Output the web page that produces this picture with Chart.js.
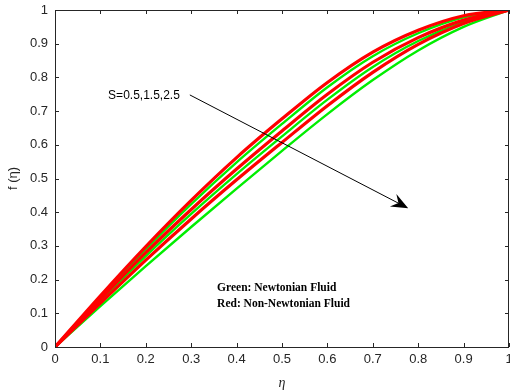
<!DOCTYPE html>
<html><head><meta charset="utf-8">
<script src="https://cdn.jsdelivr.net/npm/chart.js@4.4.0/dist/chart.umd.min.js"></script>
<style>html,body{margin:0;padding:0;background:#fff;} #wrap{width:510px;height:392px;}</style>
</head><body><div id="wrap"><canvas id="c" width="510" height="392"></canvas></div>
<script>
// eta grid
const eta = [0, 0.1, 0.2, 0.3, 0.4, 0.5, 0.6, 0.7, 0.8, 0.9, 1.0];
// Non-Newtonian (red) for S = 0.5, 1.5, 2.5
const redS05 = [0, 0.152, 0.298, 0.435, 0.562, 0.677, 0.785, 0.875, 0.940, 0.983, 1.0];
const redS15 = [0, 0.142, 0.280, 0.408, 0.528, 0.641, 0.750, 0.845, 0.918, 0.970, 1.0];
const redS25 = [0, 0.130, 0.258, 0.380, 0.496, 0.607, 0.716, 0.815, 0.898, 0.960, 1.0];
// Newtonian (green) for S = 0.5, 1.5, 2.5
const greenS05 = [0, 0.148, 0.290, 0.424, 0.548, 0.662, 0.771, 0.863, 0.931, 0.978, 1.0];
const greenS15 = [0, 0.137, 0.270, 0.395, 0.513, 0.625, 0.734, 0.831, 0.908, 0.964, 1.0];
const greenS25 = [0, 0.121, 0.240, 0.356, 0.470, 0.582, 0.691, 0.792, 0.880, 0.950, 1.0];

const xTicks = [0, 0.1, 0.2, 0.3, 0.4, 0.5, 0.6, 0.7, 0.8, 0.9, 1];
const yTicks = [0, 0.1, 0.2, 0.3, 0.4, 0.5, 0.6, 0.7, 0.8, 0.9, 1];

const annotationLabel = "S=0.5,1.5,2.5";
const legendLines = ["Green: Newtonian Fluid", "Red: Non-Newtonian Fluid"];

function pts(ys) { return eta.map((e, i) => ({x: e, y: ys[i]})); }

const RED = '#ff0000', GREEN = '#00ee00';
const datasets = [
  {data: pts(redS05), borderColor: RED, borderWidth: 3.2, order: 1},
  {data: pts(redS15), borderColor: RED, borderWidth: 3.2, order: 1},
  {data: pts(redS25), borderColor: RED, borderWidth: 3.2, order: 1},
  {data: pts(greenS05), borderColor: GREEN, borderWidth: 2.4, order: 2},
  {data: pts(greenS15), borderColor: GREEN, borderWidth: 2.4, order: 2},
  {data: pts(greenS25), borderColor: GREEN, borderWidth: 2.4, order: 2},
];

const AXC = '#262626';
const frameAndNotes = {
  id: 'frameAndNotes',
  afterDatasetsDraw(chart) {
    const {ctx, chartArea: a, scales: {x, y}} = chart;
    ctx.save();
    ctx.strokeStyle = AXC; ctx.lineWidth = 1;
    ctx.strokeRect(Math.round(a.left) + 0.5, Math.round(a.top) + 0.5, Math.round(a.right - a.left) - 1, Math.round(a.bottom - a.top));
    const L = 4;
    ctx.beginPath();
    xTicks.forEach(v => {
      const px = Math.round(x.getPixelForValue(v)) + 0.5;
      ctx.moveTo(px, a.bottom); ctx.lineTo(px, a.bottom - L);
      ctx.moveTo(px, a.top); ctx.lineTo(px, a.top + L);
    });
    yTicks.forEach(v => {
      const py = Math.round(y.getPixelForValue(v)) + 0.5;
      ctx.moveTo(a.left, py); ctx.lineTo(a.left + L, py);
      ctx.moveTo(a.right, py); ctx.lineTo(a.right - L, py);
    });
    ctx.stroke();

    ctx.fillStyle = '#000';
    ctx.font = '12px "Liberation Sans", Arial, sans-serif';
    ctx.textAlign = 'left'; ctx.textBaseline = 'middle';
    const tx = x.getPixelForValue(0.117), ty = y.getPixelForValue(0.745);
    ctx.fillText(annotationLabel, tx, ty);
    const x0 = x.getPixelForValue(0.297), y0 = y.getPixelForValue(0.748);
    const x1 = x.getPixelForValue(0.778), y1 = y.getPixelForValue(0.412);
    ctx.strokeStyle = '#000'; ctx.lineWidth = 1;
    ctx.beginPath(); ctx.moveTo(x0, y0); ctx.lineTo(x1 - 6, y1 - 3); ctx.stroke();
    const ang = Math.atan2(y1 - y0, x1 - x0);
    const len = 17, w = 7, notch = 11;
    ctx.beginPath();
    ctx.moveTo(x1, y1);
    ctx.lineTo(x1 - len * Math.cos(ang) - w * Math.sin(ang), y1 - len * Math.sin(ang) + w * Math.cos(ang));
    ctx.lineTo(x1 - notch * Math.cos(ang), y1 - notch * Math.sin(ang));
    ctx.lineTo(x1 - len * Math.cos(ang) + w * Math.sin(ang), y1 - len * Math.sin(ang) - w * Math.cos(ang));
    ctx.closePath(); ctx.fillStyle = '#000'; ctx.fill();

    ctx.font = 'bold 11.5px "Liberation Serif", "Times New Roman", serif';
    const lx = x.getPixelForValue(0.357);
    ctx.fillText(legendLines[0], lx, y.getPixelForValue(0.175));
    ctx.fillText(legendLines[1], lx, y.getPixelForValue(0.128));
    ctx.restore();
  }
};

const tickFont = {family: '"Liberation Sans", Arial, sans-serif', size: 13};
new Chart(document.getElementById('c'), {
  type: 'line',
  data: {datasets},
  options: {
    responsive: false, animation: false, devicePixelRatio: 1,
    layout: {padding: {top: 10, right: 1, left: 0, bottom: 0}},
    elements: {point: {radius: 0}, line: {cubicInterpolationMode: 'monotone', fill: false}},
    plugins: {legend: {display: false}, tooltip: {enabled: false}},
    scales: {
      x: {
        type: 'linear', min: 0, max: 1,
        afterBuildTicks: s => { s.ticks = xTicks.map(v => ({value: v})); },
        afterFit: s => { s.height = 45; s.paddingLeft = 0; s.paddingRight = 0; },
        grid: {display: false, drawTicks: false},
        border: {display: false},
        ticks: {color: AXC, font: tickFont, padding: 5, maxRotation: 0, callback: v => String(+v.toFixed(1))},
        title: {display: true, text: 'η', color: AXC, font: {family: '"Liberation Serif", serif', size: 14, style: 'italic'}, padding: {top: 6, bottom: 0}}
      },
      y: {
        type: 'linear', min: 0, max: 1,
        afterBuildTicks: s => { s.ticks = yTicks.map(v => ({value: v})); },
        afterFit: s => { s.width = 55; s.paddingTop = 0; s.paddingBottom = 0; },
        grid: {display: false, drawTicks: false},
        border: {display: false},
        ticks: {color: AXC, font: tickFont, padding: 7, callback: v => String(+v.toFixed(1))},
        title: {display: true, text: 'f (η)', color: AXC, font: {family: '"Liberation Sans", Arial, sans-serif', size: 13}, padding: {top: 6, bottom: 4}}
      }
    }
  },
  plugins: [frameAndNotes]
});
</script></body></html>
